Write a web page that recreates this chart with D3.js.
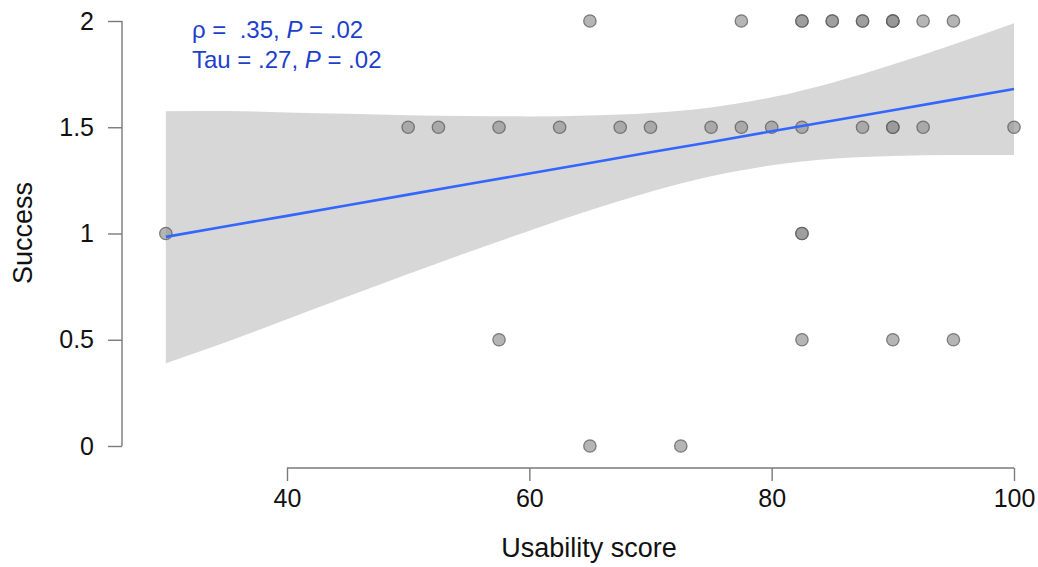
<!DOCTYPE html>
<html>
<head>
<meta charset="utf-8">
<script src="https://cdn.jsdelivr.net/npm/d3@7"></script>
<style>
  body { margin: 0; background: #fff; }
  svg text { font-family: "Liberation Sans", Arial, Helvetica, sans-serif; fill: #111; }
  .axis path, .axis line { stroke: #7a7a7a; stroke-width: 1.4; }
</style>
</head>
<body>
<div id="chart"></div>
<script>
// observed points (usability score, success); repeats = overlapping points
var usability = [30,
  50, 52.5, 57.5, 62.5, 67.5, 70, 75, 77.5, 80, 82.5, 87.5, 90, 90, 92.5, 100,
  65, 77.5, 82.5, 82.5, 85, 85, 87.5, 87.5, 90, 90, 90, 92.5, 95,
  82.5, 82.5,
  57.5, 82.5, 90, 95,
  65, 72.5];
var success = [1,
  1.5, 1.5, 1.5, 1.5, 1.5, 1.5, 1.5, 1.5, 1.5, 1.5, 1.5, 1.5, 1.5, 1.5, 1.5,
  2, 2, 2, 2, 2, 2, 2, 2, 2, 2, 2, 2, 2,
  1, 1,
  0.5, 0.5, 0.5, 0.5,
  0, 0];

// linear fit and its confidence band
var bandX    = [30, 35, 40, 45, 50, 55, 60, 65, 70, 75, 80, 85, 90, 95, 100];
var fitY     = [0.984, 1.034, 1.083, 1.133, 1.183, 1.233, 1.282, 1.332, 1.382, 1.431, 1.481, 1.531, 1.580, 1.630, 1.680];
var bandLow  = [0.39, 0.49, 0.596, 0.703, 0.809, 0.913, 1.013, 1.109, 1.197, 1.269, 1.321, 1.352, 1.365, 1.370, 1.370];
var bandHigh = [1.575, 1.576, 1.570, 1.563, 1.557, 1.553, 1.551, 1.555, 1.567, 1.593, 1.641, 1.710, 1.795, 1.890, 1.990];

var xTicks = [40, 60, 80, 100];
var yTicks = [0, 0.5, 1, 1.5, 2];
var yTickLabels = ["0", "0.5", "1", "1.5", "2"];

var width = 1038, height = 567;

var svg = d3.select("#chart").append("svg")
    .attr("width", width)
    .attr("height", height);

var x = d3.scaleLinear().domain([40, 100]).range([287, 1014]);
var y = d3.scaleLinear().domain([0, 2]).range([446, 21]);

// confidence band
var area = d3.area()
    .x(function (d, i) { return x(bandX[i]); })
    .y0(function (d, i) { return y(bandLow[i]); })
    .y1(function (d, i) { return y(bandHigh[i]); })
    .curve(d3.curveMonotoneX);

svg.append("path")
    .datum(bandX)
    .attr("d", area)
    .attr("fill", "#d7d7d7");

// points
svg.append("g").selectAll("circle")
    .data(usability)
    .enter()
    .append("circle")
    .attr("cx", function (d) { return x(d); })
    .attr("cy", function (d, i) { return y(success[i]); })
    .attr("r", 6.2)
    .attr("fill", "#959595")
    .attr("fill-opacity", 0.7)
    .attr("stroke", "#555")
    .attr("stroke-opacity", 0.7)
    .attr("stroke-width", 1.3);

// fitted line
var line = d3.line()
    .x(function (d, i) { return x(bandX[i]); })
    .y(function (d, i) { return y(fitY[i]); });

svg.append("path")
    .datum(bandX)
    .attr("d", line)
    .attr("fill", "none")
    .attr("stroke", "#3366ff")
    .attr("stroke-width", 2.6);

// axes
var xAxis = d3.axisBottom(x)
    .tickValues(xTicks)
    .tickSizeOuter(0)
    .tickSize(13)
    .tickPadding(8)
    .tickFormat(d3.format("d"));

var xG = svg.append("g")
    .attr("class", "x axis")
    .attr("transform", "translate(0,468)")
    .call(xAxis);
xG.select(".domain").attr("d", "M" + x(40) + ",0H" + x(100));
xG.selectAll("text").style("font-size", "25px").attr("fill", "#111");

var yAxis = d3.axisLeft(y)
    .tickValues(yTicks)
    .tickSizeOuter(0)
    .tickSize(14)
    .tickPadding(14)
    .tickFormat(function (d, i) { return yTickLabels[i]; });

var yG = svg.append("g")
    .attr("class", "y axis")
    .attr("transform", "translate(122,0)")
    .call(yAxis);
yG.select(".domain").attr("d", "M0," + y(2) + "V" + y(0));
yG.selectAll("text").style("font-size", "25px").attr("fill", "#111");

// axis titles
svg.append("text")
    .attr("x", 589)
    .attr("y", 557)
    .attr("text-anchor", "middle")
    .style("font-size", "27px")
    .text("Usability score");

svg.append("text")
    .attr("transform", "translate(32,233) rotate(-90)")
    .attr("text-anchor", "middle")
    .style("font-size", "27px")
    .text("Success");

// correlation annotation
var note = svg.append("g").attr("class", "note");
var l1 = note.append("text").attr("x", 192).attr("y", 38)
    .style("font-size", "24px").style("fill", "#1c3fcc");
l1.append("tspan").text("\u03c1 =\u00a0 .35, ");
l1.append("tspan").style("font-style", "italic").text("P");
l1.append("tspan").text(" = .02");

var l2 = note.append("text").attr("x", 192).attr("y", 68)
    .style("font-size", "24px").style("fill", "#1c3fcc");
l2.append("tspan").text("Tau = .27, ");
l2.append("tspan").style("font-style", "italic").text("P");
l2.append("tspan").text(" = .02");
</script>
</body>
</html>
